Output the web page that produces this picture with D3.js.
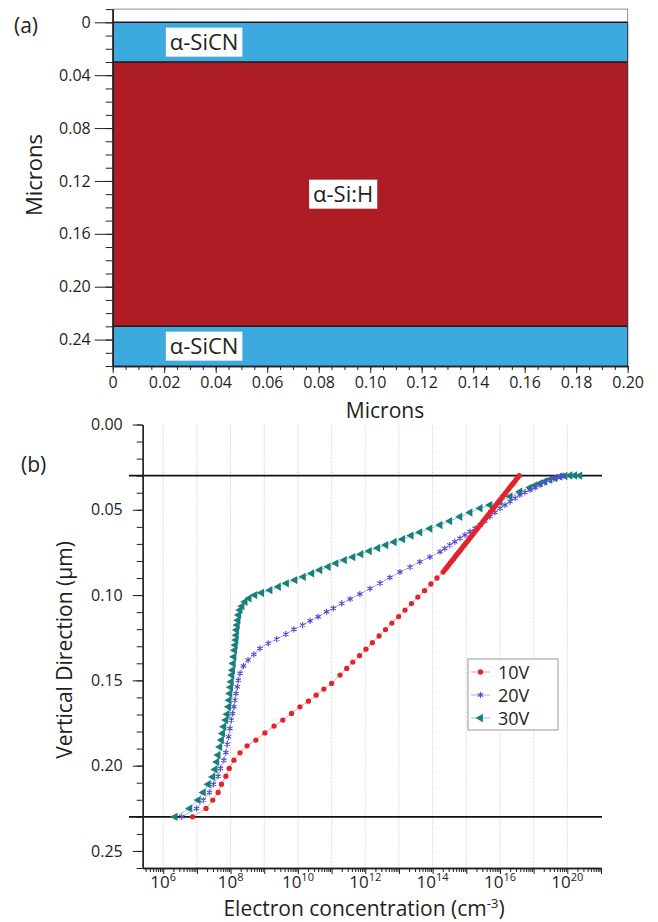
<!DOCTYPE html>
<html>
<head>
<meta charset="utf-8">
<script src="https://cdn.jsdelivr.net/npm/d3@7"></script>
<style>
  body { margin: 0; background: #fff; }
  svg text { font-family: "Open Sans", "Noto Sans", sans-serif; fill: #231f20; }
</style>
</head>
<body>
<div id="app"></div>
<script>
// ---- データ ----
// (a) layer stack
const layerNames = ["α-SiCN", "α-Si:H", "α-SiCN"];
const layerTop = [0, 0.03, 0.23];
const layerBottom = [0.03, 0.23, 0.26];

const micronTicksX = [0, 0.02, 0.04, 0.06, 0.08, 0.10, 0.12, 0.14, 0.16, 0.18, 0.20];
const micronLabelsX = ["0", "0.02", "0.04", "0.06", "0.08", "0.10", "0.12", "0.14", "0.16", "0.18", "0.20"];
const micronTicksY = [0, 0.04, 0.08, 0.12, 0.16, 0.20, 0.24];
const micronLabelsY = ["0", "0.04", "0.08", "0.12", "0.16", "0.20", "0.24"];

// (b) electron concentration profiles
const depthTicks = [0, 0.05, 0.10, 0.15, 0.20, 0.25];
const depthLabels = ["0.00", "0.05", "0.10", "0.15", "0.20", "0.25"];
const concTickExp = [6, 8, 10, 12, 14, 16, 18];
const concTickText = ["6", "8", "10", "12", "14", "16", "20"];
const interfaces = [0.03, 0.23];

const seriesNames = ["10V", "20V", "30V"];
// [log10 n (cm^-3), depth (µm)]
const n10V = [
  [6.87, 0.2300], [7.27, 0.2251], [7.47, 0.2202], [7.63, 0.2157], [7.73, 0.2109], [7.86, 0.2062],
  [7.96, 0.2016], [8.10, 0.1968], [8.28, 0.1925], [8.49, 0.1884], [8.75, 0.1850], [9.02, 0.1808],
  [9.29, 0.1768], [9.55, 0.1733], [9.81, 0.1694], [10.06, 0.1655], [10.31, 0.1622], [10.54, 0.1587],
  [10.77, 0.1551], [11.00, 0.1518], [11.25, 0.1469], [11.45, 0.1430], [11.63, 0.1393], [11.83, 0.1355],
  [12.02, 0.1317], [12.21, 0.1279], [12.41, 0.1240], [12.60, 0.1202], [12.79, 0.1164], [12.99, 0.1126],
  [13.18, 0.1088], [13.37, 0.1050], [13.56, 0.1012], [13.76, 0.0974], [13.95, 0.0935], [14.13, 0.0900],
  [14.31, 0.0865], [14.37, 0.0850], [14.42, 0.0838], [14.47, 0.0825], [14.52, 0.0812], [14.57, 0.0800],
  [14.62, 0.0788], [14.67, 0.0775], [14.72, 0.0762], [14.77, 0.0750], [14.82, 0.0738], [14.87, 0.0725],
  [14.92, 0.0712], [14.97, 0.0700], [15.02, 0.0688], [15.07, 0.0675], [15.12, 0.0662], [15.17, 0.0650],
  [15.22, 0.0638], [15.27, 0.0625], [15.32, 0.0612], [15.37, 0.0600], [15.42, 0.0588], [15.47, 0.0575],
  [15.52, 0.0562], [15.57, 0.0550], [15.62, 0.0538], [15.67, 0.0525], [15.72, 0.0512], [15.77, 0.0500],
  [15.82, 0.0488], [15.87, 0.0475], [15.92, 0.0462], [15.97, 0.0450], [16.02, 0.0438], [16.07, 0.0425],
  [16.12, 0.0412], [16.17, 0.0400], [16.22, 0.0388], [16.27, 0.0375], [16.32, 0.0362], [16.37, 0.0350],
  [16.42, 0.0338], [16.47, 0.0325], [16.52, 0.0312], [16.57, 0.0300]
];
const n20V = [
  [6.55, 0.2300], [6.99, 0.2251], [7.19, 0.2202], [7.37, 0.2157], [7.49, 0.2109], [7.63, 0.2062],
  [7.70, 0.2016], [7.80, 0.1968], [7.86, 0.1923], [7.90, 0.1874], [7.94, 0.1831], [7.98, 0.1782],
  [8.02, 0.1733], [8.06, 0.1694], [8.10, 0.1655], [8.13, 0.1616], [8.16, 0.1577], [8.20, 0.1538],
  [8.23, 0.1499], [8.28, 0.1459], [8.38, 0.1416], [8.52, 0.1381], [8.69, 0.1348], [8.87, 0.1313],
  [9.12, 0.1283], [9.37, 0.1258], [9.64, 0.1229], [9.88, 0.1201], [10.14, 0.1176], [10.36, 0.1151],
  [10.60, 0.1127], [10.85, 0.1098], [11.05, 0.1078], [11.30, 0.1049], [11.55, 0.1023], [11.84, 0.0994],
  [12.14, 0.0962], [12.44, 0.0930], [12.73, 0.0897], [13.03, 0.0865], [13.33, 0.0836], [13.62, 0.0805],
  [13.92, 0.0777], [14.22, 0.0746], [14.36, 0.0727], [14.51, 0.0707], [14.66, 0.0687], [14.81, 0.0667],
  [14.96, 0.0648], [15.11, 0.0628], [15.26, 0.0609], [15.41, 0.0589], [15.55, 0.0565], [15.70, 0.0540],
  [15.85, 0.0516], [16.00, 0.0491], [16.15, 0.0472], [16.30, 0.0452], [16.45, 0.0432], [16.59, 0.0413],
  [16.74, 0.0398], [16.89, 0.0384], [17.04, 0.0370], [17.19, 0.0355], [17.33, 0.0340], [17.48, 0.0326],
  [17.60, 0.0317], [17.70, 0.0310], [17.80, 0.0304], [17.88, 0.0300]
];
const n30V = [
  [6.35, 0.2300], [6.79, 0.2251], [7.04, 0.2202], [7.19, 0.2157], [7.34, 0.2109], [7.47, 0.2066],
  [7.54, 0.2022], [7.59, 0.1978], [7.63, 0.1938], [7.68, 0.1890], [7.73, 0.1850], [7.76, 0.1811],
  [7.80, 0.1772], [7.86, 0.1733], [7.90, 0.1698], [7.94, 0.1655], [7.96, 0.1616], [7.98, 0.1577],
  [8.00, 0.1541], [8.02, 0.1508], [8.04, 0.1469], [8.06, 0.1440], [8.08, 0.1401], [8.10, 0.1362],
  [8.12, 0.1323], [8.14, 0.1293], [8.16, 0.1264], [8.17, 0.1235], [8.18, 0.1205], [8.20, 0.1176],
  [8.22, 0.1147], [8.24, 0.1117], [8.28, 0.1088], [8.34, 0.1065], [8.43, 0.1039], [8.55, 0.1019],
  [8.72, 0.1000], [8.92, 0.0987], [9.17, 0.0971], [9.42, 0.0951], [9.66, 0.0931], [9.91, 0.0912],
  [10.16, 0.0893], [10.41, 0.0873], [10.65, 0.0853], [10.90, 0.0834], [11.13, 0.0814], [11.38, 0.0795],
  [11.63, 0.0777], [11.87, 0.0760], [12.12, 0.0742], [12.37, 0.0724], [12.61, 0.0707], [12.86, 0.0689],
  [13.11, 0.0672], [13.36, 0.0651], [13.62, 0.0632], [13.92, 0.0610], [14.22, 0.0589], [14.51, 0.0566],
  [14.81, 0.0541], [15.11, 0.0516], [15.41, 0.0491], [15.70, 0.0472], [16.00, 0.0453], [16.30, 0.0422],
  [16.59, 0.0394], [16.89, 0.0370], [17.04, 0.0357], [17.19, 0.0345], [17.33, 0.0334], [17.48, 0.0323],
  [17.63, 0.0314], [17.78, 0.0306], [17.93, 0.0302], [18.08, 0.0299], [18.22, 0.0299], [18.37, 0.0300]
];

// ---- 描画 ----
const W = 658, H = 922;
const ink = "#231f20";
const font = '"Open Sans", "Noto Sans", sans-serif';

const svg = d3.select("#app").append("svg")
  .attr("width", W)
  .attr("height", H);

function styleAxis(g, size) {
  g.attr("font-family", font).attr("font-size", size);
  g.selectAll("path.domain").attr("stroke", ink).attr("stroke-width", 1.3);
  g.selectAll(".tick line").attr("stroke", ink).attr("stroke-width", 1);
  g.selectAll(".tick text").attr("fill", ink);
}

/* ===== (a) ===== */
const xA = d3.scaleLinear().domain([0, 0.2]).range([112.7, 627.7]);
const yA = d3.scaleLinear().domain([-0.01, 0.26]).range([9.1, 366]);
const gA = svg.append("g").attr("class", "panel-a");

// 枠
gA.append("rect")
  .attr("x", xA(0)).attr("y", yA(-0.01))
  .attr("width", xA(0.2) - xA(0)).attr("height", yA(0.26) - yA(-0.01))
  .attr("fill", "#fff").attr("stroke", "#777").attr("stroke-width", 0.8);

// 層
gA.selectAll("rect.layer")
  .data(layerNames)
  .enter().append("rect")
  .attr("class", "layer")
  .attr("x", xA(0))
  .attr("y", (d, i) => yA(layerTop[i]))
  .attr("width", xA(0.2) - xA(0))
  .attr("height", (d, i) => yA(layerBottom[i]) - yA(layerTop[i]))
  .attr("fill", (d) => (d === "α-Si:H" ? "#ae1d24" : "#3caade"));

// 界面の線
gA.selectAll("line.iface")
  .data(layerTop)
  .enter().append("line")
  .attr("x1", xA(0)).attr("x2", xA(0.2))
  .attr("y1", (d) => yA(d)).attr("y2", (d) => yA(d))
  .attr("stroke", "#1a1a1a").attr("stroke-width", 1.5);

gA.append("line")
  .attr("x1", xA(0.2)).attr("x2", xA(0.2))
  .attr("y1", yA(0)).attr("y2", yA(0.26))
  .attr("stroke", "#333").attr("stroke-width", 1);

// 層のラベル（白い箱）
const labelCenterX = [0.0355, 0.0895, 0.0355];
layerNames.forEach((name, i) => {
  const cx = xA(labelCenterX[i]);
  const cy = yA((layerTop[i] + layerBottom[i]) / 2);
  const g = gA.append("g");
  const t = g.append("text")
    .attr("x", cx).attr("y", cy)
    .attr("text-anchor", "middle")
    .attr("dy", "0.36em")
    .attr("font-size", 22)
    .text(name);
  const b = t.node().getBBox();
  g.insert("rect", "text")
    .attr("x", b.x - 4).attr("y", cy - 14.5)
    .attr("width", b.width + 8).attr("height", 29)
    .attr("fill", "#fff");
});

// 軸
const axA_xMinor = gA.append("g")
  .attr("transform", `translate(0,${yA(0.26)})`)
  .call(d3.axisBottom(xA).tickValues(d3.range(0, 41).map((i) => i * 0.005)).tickSize(4).tickSizeOuter(0).tickFormat(""));
styleAxis(axA_xMinor, 16);
const axA_x = gA.append("g")
  .attr("transform", `translate(0,${yA(0.26)})`)
  .call(d3.axisBottom(xA).tickValues(micronTicksX).tickSize(7).tickSizeOuter(0).tickPadding(4)
    .tickFormat((d, i) => micronLabelsX[i]));
styleAxis(axA_x, 16);

const axA_yMinor = gA.append("g")
  .attr("transform", `translate(${xA(0)},0)`)
  .call(d3.axisLeft(yA).tickValues(d3.range(0, 28).map((i) => -0.01 + i * 0.01)).tickSize(7).tickSizeOuter(0).tickFormat(""));
styleAxis(axA_yMinor, 16);
const axA_y = gA.append("g")
  .attr("transform", `translate(${xA(0)},0)`)
  .call(d3.axisLeft(yA).tickValues(micronTicksY).tickSize(18).tickSizeOuter(0).tickPadding(4)
    .tickFormat((d, i) => micronLabelsY[i]));
styleAxis(axA_y, 16);

gA.append("text")
  .attr("x", 385).attr("y", 418)
  .attr("text-anchor", "middle").attr("font-size", 21)
  .text("Microns");
gA.append("text")
  .attr("transform", "translate(42,175) rotate(-90)")
  .attr("text-anchor", "middle").attr("font-size", 22)
  .text("Microns");
gA.append("text")
  .attr("x", 14).attr("y", 33).attr("font-size", 21)
  .text("(a)");

/* ===== (b) ===== */
const xB = d3.scaleLog().domain([Math.pow(10, 5.39), 1e19]).range([142.7, 601]);
const yB = d3.scaleLinear().domain([0, 0.26]).range([424.5, 868]);
const gB = svg.append("g").attr("class", "panel-b");

// 縦の点線グリッド
const decades = d3.range(6, 19).map((e) => Math.pow(10, e));
gB.selectAll("line.grid")
  .data(decades)
  .enter().append("line")
  .attr("x1", (d) => xB(d)).attr("x2", (d) => xB(d))
  .attr("y1", yB(0)).attr("y2", yB(0.26))
  .attr("stroke", "#bbb").attr("stroke-width", 0.8)
  .attr("stroke-dasharray", "1,1.5");

// 界面
gB.selectAll("line.iface")
  .data(interfaces)
  .enter().append("line")
  .attr("x1", 129).attr("x2", 602)
  .attr("y1", (d) => yB(d)).attr("y2", (d) => yB(d))
  .attr("stroke", "#111").attr("stroke-width", 1.6);

// 曲線
const seriesData = [n10V, n20V, n30V];
const lineColors = ["#f2a0a3", "#aea9ee", "#8fcac6"];
const markColors = ["#e1242b", "#5148cc", "#17807c"];
const symbols = [
  d3.symbol(d3.symbolCircle, 22),
  d3.symbol(d3.symbolAsterisk, 26),
  d3.symbol(d3.symbolTriangle, 30)
];
const line = d3.line()
  .x((d) => xB(Math.pow(10, d[0])))
  .y((d) => yB(d[1]));

function drawMarker(sel, i) {
  sel.attr("d", symbols[i]);
  if (i === 1) {
    sel.attr("fill", "none").attr("stroke", markColors[i]).attr("stroke-width", 1.1);
  } else {
    sel.attr("fill", markColors[i]);
  }
}

[2, 1, 0].forEach((i) => {
  const g = gB.append("g").attr("class", "series");
  g.append("path")
    .datum(seriesData[i])
    .attr("d", line)
    .attr("fill", "none")
    .attr("stroke", lineColors[i])
    .attr("stroke-width", 1);
  g.selectAll("path.mark")
    .data(seriesData[i])
    .enter().append("path")
    .attr("class", "mark")
    .attr("transform", (d) =>
      `translate(${xB(Math.pow(10, d[0]))},${yB(d[1])})` + (i === 2 ? " rotate(-90)" : ""))
    .call(drawMarker, i);
});

// 軸
const minorConc = [];
d3.range(5, 19).forEach((e) => {
  for (let m = 2; m <= 9; m++) {
    const v = m * Math.pow(10, e);
    if (v >= xB.domain()[0] && v <= 1e19) minorConc.push(v);
  }
});
const axB_xMinor = gB.append("g")
  .attr("transform", `translate(0,${yB(0.26)})`)
  .call(d3.axisBottom(xB).tickValues(minorConc).tickSize(4).tickSizeOuter(0).tickFormat(""));
styleAxis(axB_xMinor, 16);
const axB_x = gB.append("g")
  .attr("transform", `translate(0,${yB(0.26)})`)
  .call(d3.axisBottom(xB).tickValues(d3.range(6, 20).map((e) => Math.pow(10, e))).tickSize(6).tickSizeOuter(0).tickFormat(""));
styleAxis(axB_x, 16);

const xLab = gB.selectAll("text.xlab")
  .data(concTickExp)
  .enter().append("text")
  .attr("class", "xlab")
  .attr("x", (d) => xB(Math.pow(10, d)))
  .attr("y", 888)
  .attr("text-anchor", "middle")
  .attr("font-size", 17);
xLab.append("tspan").text("10");
xLab.append("tspan")
  .attr("dy", -7).attr("font-size", 11)
  .text((d, i) => concTickText[i]);

const axB_yMinor = gB.append("g")
  .attr("transform", `translate(${xB.range()[0]},0)`)
  .call(d3.axisLeft(yB).tickValues(d3.range(0, 27).map((i) => i * 0.01)).tickSize(6).tickSizeOuter(0).tickFormat(""));
styleAxis(axB_yMinor, 16);
const axB_y = gB.append("g")
  .attr("transform", `translate(${xB.range()[0]},0)`)
  .call(d3.axisLeft(yB).tickValues(depthTicks).tickSize(10).tickSizeOuter(0).tickPadding(10)
    .tickFormat((d, i) => depthLabels[i]));
styleAxis(axB_y, 16);

// 凡例
const lg = gB.append("g").attr("transform", "translate(468,659)");
lg.append("rect")
  .attr("width", 90).attr("height", 71)
  .attr("fill", "#fff").attr("stroke", "#999").attr("stroke-width", 1);
seriesNames.forEach((name, i) => {
  const y = 13 + i * 23;
  lg.append("line")
    .attr("x1", 3).attr("x2", 22).attr("y1", y).attr("y2", y)
    .attr("stroke", lineColors[i]).attr("stroke-width", 1);
  lg.append("path")
    .attr("transform", `translate(12.5,${y})` + (i === 2 ? " rotate(-90)" : ""))
    .call(drawMarker, i);
  lg.append("text")
    .attr("x", 30).attr("y", y + 7)
    .attr("font-size", 18)
    .text(name);
});

const xTitle = gB.append("text")
  .attr("x", 364).attr("y", 916)
  .attr("text-anchor", "middle").attr("font-size", 21);
xTitle.append("tspan").text("Electron concentration (cm");
xTitle.append("tspan").attr("dy", -8).attr("font-size", 13).text("-3");
xTitle.append("tspan").attr("dy", 8).text(")");

gB.append("text")
  .attr("transform", "translate(72,650) rotate(-90)")
  .attr("text-anchor", "middle").attr("font-size", 21)
  .text("Vertical Direction (μm)");
gB.append("text")
  .attr("x", 21).attr("y", 472).attr("font-size", 21)
  .text("(b)");
</script>
</body>
</html>
